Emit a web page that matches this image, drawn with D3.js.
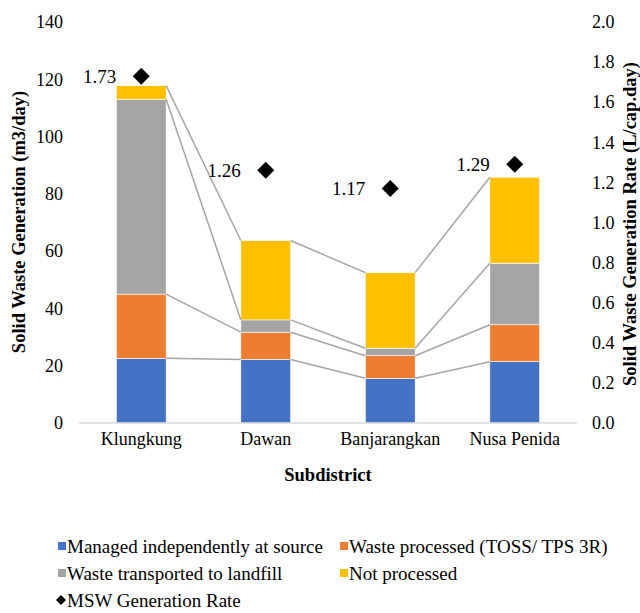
<!DOCTYPE html>
<html><head><meta charset="utf-8">
<script src="https://cdn.jsdelivr.net/npm/d3@7"></script>
<style>body{margin:0;background:#fff}svg{display:block}</style>
</head><body><svg id="c" width="640" height="613"></svg>
<script>
const categories = ["Klungkung","Dawan","Banjarangkan","Nusa Penida"];
const managedIndependently = [22.6, 22.2, 15.6, 21.4];
const wasteProcessed = [22.4, 9.5, 7.9, 12.9];
const transportedLandfill = [68.0, 4.3, 2.6, 21.5];
const notProcessed = [4.8, 27.7, 26.4, 30.0];
const mswRate = [1.73, 1.26, 1.17, 1.29];
const leftTicks = [0,20,40,60,80,100,120,140];
const rightTicks = [0,0.2,0.4,0.6,0.8,1.0,1.2,1.4,1.6,1.8,2.0];
const seriesNames = ["Managed independently at source","Waste processed (TOSS/ TPS 3R)","Waste transported to landfill","Not processed"];
const colors = ["#4472C4","#ED7D31","#A5A5A5","#FFC000"];

(function(){
const FF = "'Liberation Serif', 'Times New Roman', serif";
const svg = d3.select("#c");
const pL = 79, pR = 577, pT = 22, pB = 423;
const x = d3.scaleBand().domain(categories).range([pL,pR]).paddingInner(0.6).paddingOuter(0.3);
const y = d3.scaleLinear().domain([0,140]).range([pB,pT]);
const y2 = d3.scaleLinear().domain([0,2]).range([pB,pT]);

const rows = categories.map((c,i)=>({cat:c, s0:managedIndependently[i], s1:wasteProcessed[i], s2:transportedLandfill[i], s3:notProcessed[i]}));
const stacked = d3.stack().keys(["s0","s1","s2","s3"])(rows);

stacked.forEach((layer,k)=>{
  svg.append("g").selectAll("rect").data(layer).join("rect")
    .attr("x",d=>x(d.data.cat)).attr("width",x.bandwidth())
    .attr("y",d=>y(d[1])).attr("height",d=>y(d[0])-y(d[1]))
    .attr("fill",colors[k]).attr("stroke","#fff").attr("stroke-width",0.6);
});
stacked.forEach(layer=>{
  for(let i=0;i<layer.length-1;i++){
    svg.append("line")
      .attr("x1",x(categories[i])+x.bandwidth()).attr("y1",y(layer[i][1]))
      .attr("x2",x(categories[i+1])).attr("y2",y(layer[i+1][1]))
      .attr("stroke","#A5A5A5").attr("stroke-width",1.5);
  }
});
svg.append("line").attr("x1",pL).attr("x2",pR).attr("y1",y(0)).attr("y2",y(0)).attr("stroke","#D9D9D9").attr("stroke-width",1.3);

function styleAxis(g){
  g.select(".domain").remove();
  g.attr("font-family",null).attr("font-size",null);
  g.selectAll("text").style("font-family",FF).style("font-size","18px").attr("fill","#000");
}
const gL = svg.append("g").attr("transform","translate(63,0)")
  .call(d3.axisLeft(y).tickValues(leftTicks).tickSize(0).tickPadding(0).tickFormat(d3.format("d")));
styleAxis(gL);
const gR = svg.append("g").attr("transform","translate(592,0)")
  .call(d3.axisRight(y2).tickValues(rightTicks).tickSize(0).tickPadding(0).tickFormat(d3.format(".1f")));
styleAxis(gR);
const gB = svg.append("g").attr("transform","translate(0,432)")
  .call(d3.axisBottom(x).tickSize(0).tickPadding(0));
styleAxis(gB);

const cx = c=>x(c)+x.bandwidth()/2;
svg.append("g").selectAll("path").data(mswRate).join("path")
  .attr("d",(d,i)=>{const X=cx(categories[i]),Y=y2(d),r=8.5;return `M${X},${Y-r}L${X+r},${Y}L${X},${Y+r}L${X-r},${Y}Z`;})
  .attr("fill","#000");
svg.append("g").selectAll("text").data(mswRate).join("text")
  .attr("x",(d,i)=>cx(categories[i])-25).attr("y",d=>y2(d)).attr("dy","0.35em")
  .attr("text-anchor","end").style("font-family",FF).style("font-size","19px").text(d=>d.toFixed(2));

svg.append("text").attr("x",328).attr("y",481).attr("text-anchor","middle").style("font-family",FF).style("font-weight","bold").style("font-size","18.5px").text("Subdistrict");
svg.append("text").attr("transform","translate(25,222) rotate(-90)").attr("text-anchor","middle").style("font-family",FF).style("font-weight","bold").style("font-size","18.5px").text("Solid Waste Generation (m3/day)");
svg.append("text").attr("transform","translate(636,224) rotate(-90)").attr("text-anchor","middle").style("font-family",FF).style("font-weight","bold").style("font-size","18.5px").text("Solid Waste Generation Rate (L/cap.day)");

const legPos = [[58,546],[340,546],[58,573],[340,573]];
seriesNames.forEach((n,k)=>{
  const [lx,ly]=legPos[k];
  svg.append("rect").attr("x",lx).attr("y",ly-4).attr("width",8).attr("height",8).attr("fill",colors[k]);
  svg.append("text").attr("x",lx+9).attr("y",ly).attr("dy","0.35em").style("font-family",FF).style("font-size","19px").text(n);
});
svg.append("path").attr("d","M61,595L66,600L61,605L56,600Z").attr("fill","#000");
svg.append("text").attr("x",67).attr("y",600).attr("dy","0.35em").style("font-family",FF).style("font-size","19px").text("MSW Generation Rate");
})();
</script></body></html>
